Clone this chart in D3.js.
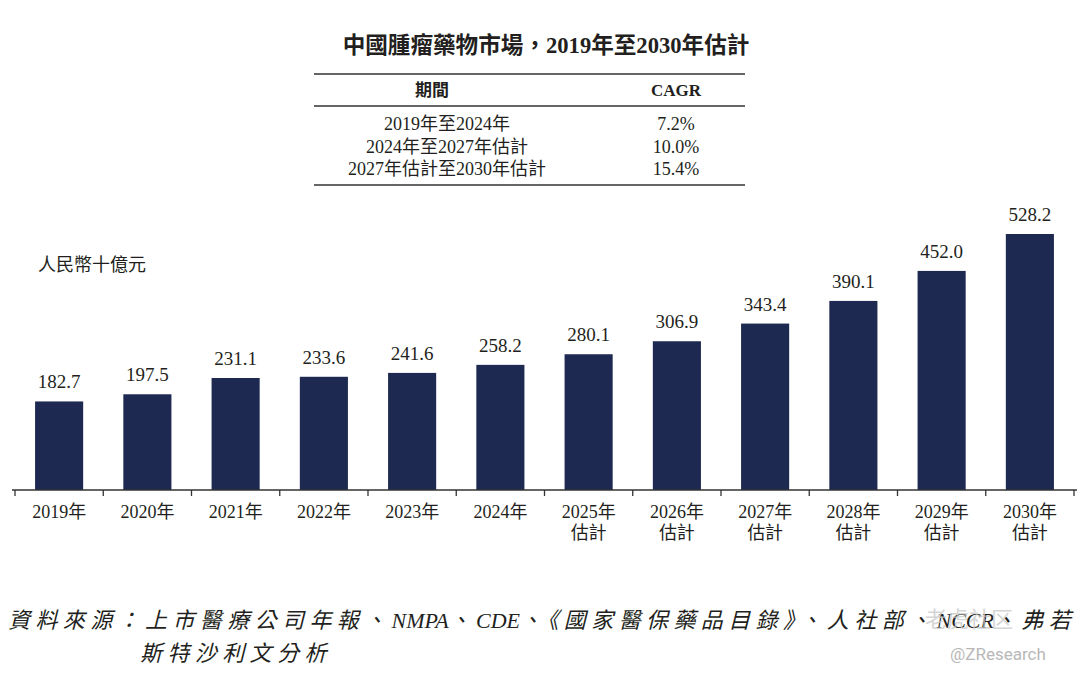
<!DOCTYPE html>
<html>
<head>
<meta charset="utf-8">
<script src="https://cdn.jsdelivr.net/npm/d3@7"></script>
<style>
  body { margin: 0; background: #fff; }
  svg text { font-family: "Liberation Serif", "Noto Sans CJK TC", serif; fill: #231f20; }
</style>
</head>
<body>
<svg id="chart" width="1080" height="677"></svg>
<script>
// chart data
const years = ["2019年", "2020年", "2021年", "2022年", "2023年", "2024年",
               "2025年", "2026年", "2027年", "2028年", "2029年", "2030年"];
const estimated = [false, false, false, false, false, false, true, true, true, true, true, true];
const marketSize = [182.7, 197.5, 231.1, 233.6, 241.6, 258.2, 280.1, 306.9, 343.4, 390.1, 452.0, 528.2];

// CAGR table
const cagrPeriods = ["2019年至2024年", "2024年至2027年估計", "2027年估計至2030年估計"];
const cagrValues = ["7.2%", "10.0%", "15.4%"];

const titleText = "中國腫瘤藥物市場，2019年至2030年估計";
const unitText = "人民幣十億元";
const sourceLines = ["資料來源：上市醫療公司年報、NMPA、CDE、《國家醫保藥品目錄》、人社部、NCCR、弗若", "斯特沙利文分析"];

const svg = d3.select("#chart");
const barColor = "#1d2951";
const baseY = 490;

// title
svg.append("text")
  .attr("x", 546).attr("y", 53)
  .attr("text-anchor", "middle")
  .style("font-size", "22.6px").style("font-weight", "bold")
  .text(titleText);

// table
const tbl = svg.append("g");
[74, 106, 185].forEach(function(y) {
  tbl.append("line")
    .attr("x1", 314).attr("x2", 745).attr("y1", y).attr("y2", y)
    .attr("stroke", "#333").attr("stroke-width", 1.3);
});
tbl.append("text").attr("x", 432).attr("y", 96).attr("text-anchor", "middle")
  .style("font-size", "17px").style("font-weight", "bold").text("期間");
tbl.append("text").attr("x", 676).attr("y", 96).attr("text-anchor", "middle")
  .style("font-size", "17px").style("font-weight", "bold").text("CAGR");
tbl.selectAll("text.period")
  .data(cagrPeriods).enter().append("text")
  .attr("class", "period")
  .attr("x", 447).attr("y", function(d, i) { return 130 + i * 22.5; })
  .attr("text-anchor", "middle")
  .style("font-size", "18px")
  .text(function(d) { return d; });
tbl.selectAll("text.cagr")
  .data(cagrValues).enter().append("text")
  .attr("class", "cagr")
  .attr("x", 676).attr("y", function(d, i) { return 130 + i * 22.5; })
  .attr("text-anchor", "middle")
  .style("font-size", "18px")
  .text(function(d) { return d; });

// unit label
svg.append("text").attr("x", 38).attr("y", 271)
  .style("font-size", "18px").text(unitText);

// scales
const x = d3.scaleBand()
  .domain(years)
  .range([15, 1074])
  .paddingInner(0.455)
  .paddingOuter(0.2275);

const y = d3.scaleLinear()
  .domain([0, 528.2])
  .range([baseY, 234]);

// bars
svg.selectAll("rect.bar")
  .data(marketSize).enter().append("rect")
  .attr("class", "bar")
  .attr("x", function(d, i) { return x(years[i]); })
  .attr("y", function(d) { return y(d); })
  .attr("width", x.bandwidth())
  .attr("height", function(d) { return baseY - y(d); })
  .attr("fill", barColor);

// value labels
svg.selectAll("text.val")
  .data(marketSize).enter().append("text")
  .attr("class", "val")
  .attr("x", function(d, i) { return x(years[i]) + x.bandwidth() / 2; })
  .attr("y", function(d) { return y(d) - 13; })
  .attr("text-anchor", "middle")
  .style("font-size", "19px")
  .text(function(d) { return d.toFixed(1); });

// x axis: ticks sit on the band boundaries
const step = x.step();
const boundaries = d3.range(years.length + 1).map(function(i) { return 15 + i * step; });
const axis = svg.append("g");
axis.append("line")
  .attr("x1", 12).attr("x2", 1077).attr("y1", baseY).attr("y2", baseY)
  .attr("stroke", "#333").attr("stroke-width", 1.3);
axis.selectAll("line.tick")
  .data(boundaries).enter().append("line")
  .attr("class", "tick")
  .attr("x1", function(d) { return d; }).attr("x2", function(d) { return d; })
  .attr("y1", baseY).attr("y2", baseY + 6)
  .attr("stroke", "#333").attr("stroke-width", 1.3);

const lbl = axis.selectAll("text.xl")
  .data(years).enter().append("text")
  .attr("class", "xl")
  .attr("x", function(d) { return x(d) + x.bandwidth() / 2; })
  .attr("y", 518)
  .attr("text-anchor", "middle")
  .style("font-size", "18px");
lbl.append("tspan").text(function(d) { return d; });
lbl.filter(function(d, i) { return estimated[i]; })
  .append("tspan")
  .attr("x", function(d) { return x(d) + x.bandwidth() / 2; })
  .attr("dy", 21)
  .text("估計");

// source note: CJK runs are letter-spaced, Latin runs are not
function addSource(str, x0, y0) {
  const t = svg.append("text").attr("x", x0).attr("y", y0)
    .style("font-size", "22px").style("font-style", "italic");
  const runs = str.match(/[A-Za-z]+|[^A-Za-z]+/g);
  runs.forEach(function(r) {
    t.append("tspan")
      .style("letter-spacing", /[A-Za-z]/.test(r) ? "0px" : "5.4px")
      .text(r);
  });
}
addSource(sourceLines[0], 8, 628);
addSource(sourceLines[1], 140, 661);

// watermark
svg.append("text").attr("x", 925).attr("y", 627)
  .style("font-family", "Noto Sans CJK SC").style("font-size", "22px")
  .style("fill", "#c8c8c8").style("opacity", 0.75)
  .text("老虎社区");
svg.append("text").attr("x", 950).attr("y", 660)
  .style("font-family", "Roboto, sans-serif").style("font-size", "17px")
  .style("fill", "#b8b8b8")
  .text("@ZResearch");
</script>
</body>
</html>
